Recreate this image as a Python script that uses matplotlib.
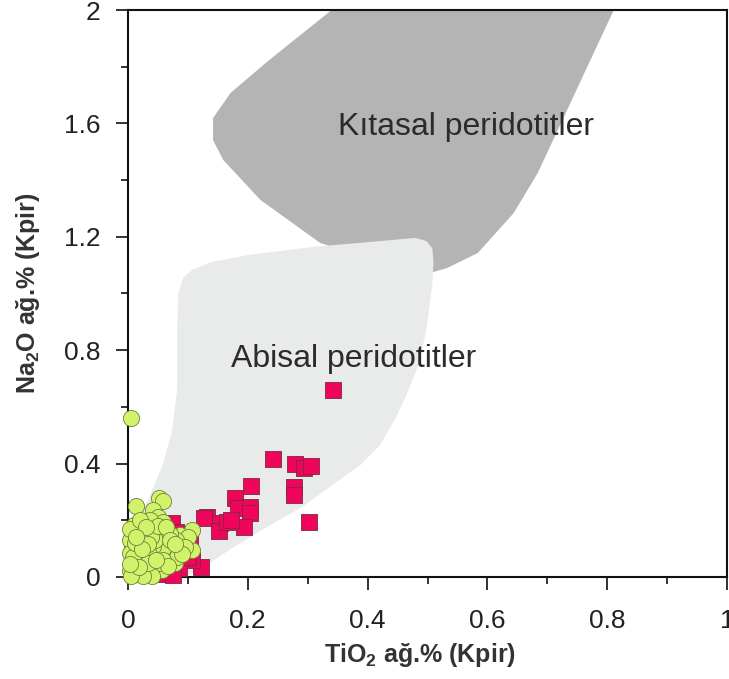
import matplotlib
matplotlib.use("Agg")
import matplotlib.pyplot as plt
from matplotlib.patches import Polygon
from matplotlib.ticker import MultipleLocator, FixedLocator, FixedFormatter

plt.rcParams['font.family'] = ['Liberation Sans', 'DejaVu Sans']
plt.rcParams['mathtext.fontset'] = 'custom'
plt.rcParams['mathtext.rm'] = 'Liberation Sans'
plt.rcParams['mathtext.bf'] = 'Liberation Sans:bold'

# ---- data ----
continental_tio2 = [0.359, 0.811, 0.811, 0.684, 0.644, 0.584, 0.533, 0.510, 0.421,
                    0.321, 0.221, 0.159, 0.142, 0.142, 0.171, 0.232, 0.340]
continental_na2o = [2.05, 2.05, 2.0, 1.425, 1.284, 1.143, 1.090, 1.076, 1.111,
                    1.178, 1.330, 1.471, 1.541, 1.619, 1.707, 1.817, 2.0]

abyssal_tio2 = [0.0, 0.005, 0.015, 0.035, 0.059, 0.074, 0.082, 0.082, 0.084, 0.092,
                0.107, 0.140, 0.201, 0.308, 0.480, 0.498, 0.508, 0.510, 0.508, 0.498,
                0.485, 0.465, 0.445, 0.421, 0.388, 0.346, 0.291, 0.229, 0.174, 0.129,
                0.095]
abyssal_na2o = [0.0, 0.131, 0.201, 0.279, 0.402, 0.519, 0.660, 0.871, 1.000, 1.055,
                1.083, 1.111, 1.136, 1.164, 1.196, 1.185, 1.160, 1.111, 1.030, 0.871,
                0.748, 0.642, 0.554, 0.466, 0.395, 0.332, 0.247, 0.173, 0.102, 0.039,
                0.0]

square_tio2 = [0.343, 0.242, 0.279, 0.293, 0.306, 0.277, 0.277, 0.302, 0.206, 0.179,
               0.184, 0.204, 0.204, 0.194, 0.132, 0.127, 0.154, 0.152, 0.166, 0.172,
               0.122, 0.074, 0.079, 0.070, 0.099, 0.107, 0.074, 0.104, 0.085, 0.065,
               0.060, 0.090, 0.080, 0.075, 0.100]
square_na2o = [0.660, 0.416, 0.397, 0.385, 0.390, 0.317, 0.288, 0.194, 0.321, 0.279,
               0.243, 0.247, 0.226, 0.176, 0.212, 0.207, 0.190, 0.162, 0.194, 0.200,
               0.035, 0.190, 0.124, 0.095, 0.078, 0.060, 0.014, 0.141, 0.030, 0.050,
               0.010, 0.110, 0.160, 0.007, 0.071]

circle_tio2 = [0.005, 0.013, 0.051, 0.059, 0.042, 0.050, 0.040, 0.059, 0.107, 0.087,
               0.092, 0.107, 0.087, 0.067, 0.050, 0.028, 0.008, 0.017, 0.007, 0.025,
               0.045, 0.067, 0.079, 0.023, 0.042, 0.007, 0.057, 0.012, 0.054, 0.027,
               0.100, 0.075, 0.080, 0.070, 0.062, 0.035, 0.033, 0.020, 0.012, 0.004,
               0.003, 0.015, 0.030, 0.038, 0.046, 0.055, 0.065, 0.072, 0.060, 0.048,
               0.036, 0.024, 0.010, 0.003, 0.018, 0.030, 0.042, 0.052, 0.035, 0.022,
               0.010, 0.004, 0.015, 0.028, 0.040, 0.016, 0.008, 0.025, 0.033, 0.045,
               0.020, 0.005, 0.012, 0.038, 0.050, 0.064, 0.030, 0.095, 0.018, 0.003,
               0.082, 0.070, 0.058, 0.090, 0.078, 0.066, 0.046, 0.034, 0.024, 0.014]
circle_na2o = [0.561, 0.252, 0.278, 0.268, 0.236, 0.212, 0.190, 0.194, 0.166, 0.148,
               0.124, 0.095, 0.088, 0.120, 0.120, 0.131, 0.148, 0.176, 0.106, 0.085,
               0.071, 0.060, 0.049, 0.035, 0.025, 0.050, 0.025, 0.010, 0.163, 0.119,
               0.140, 0.100, 0.130, 0.150, 0.140, 0.160, 0.100, 0.130, 0.160, 0.130,
               0.085, 0.070, 0.060, 0.045, 0.095, 0.080, 0.085, 0.075, 0.105, 0.150,
               0.200, 0.150, 0.185, 0.170, 0.100, 0.030, 0.110, 0.050, 0.080, 0.060,
               0.040, 0.020, 0.045, 0.015, 0.005, 0.020, 0.070, 0.005, 0.050, 0.130,
               0.200, 0.005, 0.120, 0.140, 0.180, 0.175, 0.175, 0.105, 0.035, 0.045,
               0.070, 0.130, 0.060, 0.082, 0.115, 0.040, 0.060, 0.118, 0.100, 0.140]

x_ticks = [0, 0.2, 0.4, 0.6, 0.8, 1.0]
x_tick_labels = ['0', '0.2', '0.4', '0.6', '0.8', '1']
y_ticks = [0, 0.4, 0.8, 1.2, 1.6, 2.0]
y_tick_labels = ['0', '0.4', '0.8', '1.2', '1.6', '2']

label_continental = 'Kıtasal peridotitler'
label_abyssal = 'Abisal peridotitler'

# ---- figure ----
fig = plt.figure(figsize=(7.29, 6.79), dpi=100)
ax = fig.add_axes([128/729, 1 - 577/679, 599/729, 567/679])
ax.set_xlim(0, 1)
ax.set_ylim(0, 2)

ax.add_patch(Polygon(list(zip(continental_tio2, continental_na2o)), closed=True,
                     facecolor='#b3b4b3', edgecolor='none', zorder=1))
ax.add_patch(Polygon(list(zip(abyssal_tio2, abyssal_na2o)), closed=True,
                     facecolor='#e9eaea', edgecolor='none', zorder=2))

ax.scatter(square_tio2, square_na2o, marker='s', s=118, facecolor='#ef055c',
           edgecolor='#7a2a3a', linewidth=0.6, zorder=4, clip_on=False)
ax.scatter(circle_tio2, circle_na2o, marker='o', s=135, facecolor='#d1f36c',
           edgecolor='#6f7f3a', linewidth=0.6, zorder=5, clip_on=False)

ax.text(0.564, 1.587, label_continental, fontsize=23, color='#2b2b2b',
        ha='center', va='center', zorder=6)
ax.text(0.376, 0.769, label_abyssal, fontsize=23, color='#2b2b2b',
        ha='center', va='center', zorder=6)

for side in ['left', 'bottom', 'top', 'right']:
    ax.spines[side].set_linewidth(1.5)
    ax.spines[side].set_color('#111111')

ax.xaxis.set_major_locator(FixedLocator(x_ticks))
ax.xaxis.set_major_formatter(FixedFormatter(x_tick_labels))
ax.yaxis.set_major_locator(FixedLocator(y_ticks))
ax.yaxis.set_major_formatter(FixedFormatter(y_tick_labels))
ax.xaxis.set_minor_locator(MultipleLocator(0.1))
ax.yaxis.set_minor_locator(MultipleLocator(0.2))

ax.tick_params(axis='both', which='major', direction='out', length=9, width=1.2,
               colors='#111111', labelcolor='#222222', labelsize=19)
ax.tick_params(axis='both', which='minor', direction='out', length=5, width=1.2,
               colors='#111111')
ax.tick_params(axis='x', which='major', pad=14)
ax.tick_params(axis='y', which='major', pad=11)

fig.text(420/729, 1 - 655/679, r'TiO$_\mathbf{2}$ ağ.% (Kpir)', fontsize=18,
         fontweight='bold', color='#333333', ha='center', va='center')
fig.text(28/729, 1 - 293/679, r'Na$_\mathbf{2}$O ağ.% (Kpir)', fontsize=18,
         fontweight='bold', color='#333333', ha='center', va='center', rotation=90)

ax.set_facecolor('none')
fig.savefig('out.png', dpi=100)
